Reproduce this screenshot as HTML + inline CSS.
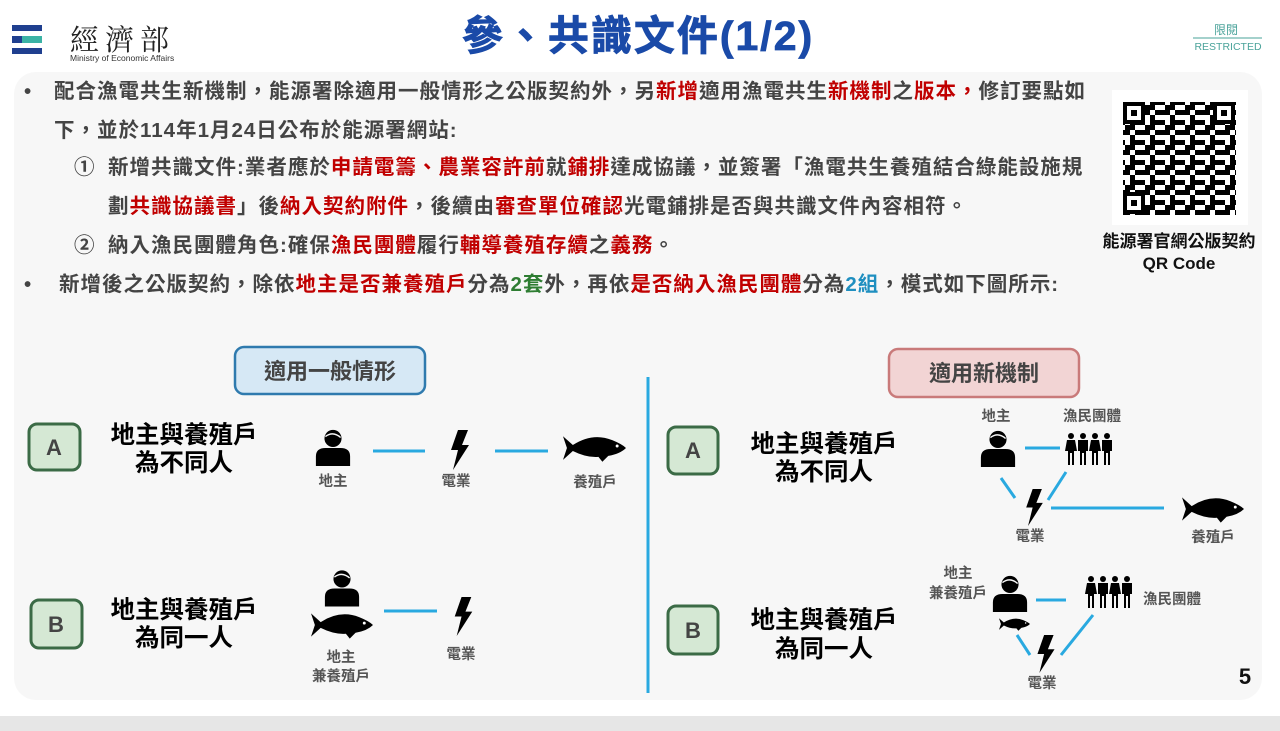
<!DOCTYPE html>
<html><head><meta charset="utf-8"><style>
*{margin:0;padding:0}
body{width:1280px;height:731px;background:#fff;position:relative;overflow:hidden;font-family:"Liberation Sans","Noto Sans CJK TC",sans-serif}
.t{position:absolute;white-space:nowrap;font-weight:bold;color:#444;font-size:20.5px;line-height:24px;letter-spacing:1.0px}
.r{color:#c00000}.g{color:#2e7d32}.b{color:#1f8fc0}
svg{position:absolute;left:0;top:0}
</style></head><body>
<div style="position:absolute;left:14px;top:72px;width:1248px;height:628px;background:#f7f7f7;border-radius:22px"></div>
<div style="position:absolute;left:0;top:716px;width:1280px;height:15px;background:#e6e6e6"></div>

<svg width="1280" height="731" viewBox="0 0 1280 731">
<defs>
<symbol id="person" viewBox="0 0 40 40"><circle cx="20" cy="11" r="9"/><path d="M2 40 V30 Q2 21 12 21 H28 Q38 21 38 30 V40Z"/><path d="M12 9 Q20 3 28 10" stroke="#f7f7f7" stroke-width="1.5" fill="none"/></symbol>
<symbol id="bolt" viewBox="0 0 20 40"><path d="M8 0 H18 L12 15 H19 L3 40 L8 20 H1Z"/></symbol>
<symbol id="fish" viewBox="0 0 64 28"><path d="M0 2 L10 11 Q30 -2 50 6 Q60 10 64 14 Q58 20 46 22 L40 28 L36 23 Q24 24 10 17 L0 26 L4 14Z"/><circle cx="55" cy="12" r="1.5" fill="#fff"/></symbol>
<symbol id="grp" viewBox="0 0 48 32"><g><circle cx="6" cy="3" r="3"/><path d="M2 7 H10 L12 18 H9 V32 H7 V20 H5 V32 H3 V18 H0Z"/></g><g transform="translate(12 0)"><circle cx="6" cy="3" r="3"/><path d="M1 7 H11 V18 H9 V32 H7 V20 H5 V32 H3 V18 H1Z"/></g><g transform="translate(24 0)"><circle cx="6" cy="3" r="3"/><path d="M2 7 H10 L12 18 H9 V32 H7 V20 H5 V32 H3 V18 H0Z"/></g><g transform="translate(36 0)"><circle cx="6" cy="3" r="3"/><path d="M1 7 H11 V18 H9 V32 H7 V20 H5 V32 H3 V18 H1Z"/></g></symbol>
<pattern id="qr" width="20" height="20" patternUnits="userSpaceOnUse"><rect width="20" height="20" fill="#fff"/><rect x="0" y="0" width="5" height="5"/><rect x="5" y="5" width="5" height="5"/><rect x="10" y="0" width="5" height="10"/><rect x="0" y="10" width="10" height="5"/><rect x="15" y="10" width="5" height="5"/><rect x="10" y="15" width="5" height="5"/><rect x="15" y="0" width="5" height="5"/></pattern>
</defs>
<!-- logo -->
<rect x="12" y="25" width="30" height="6" fill="#1f3f8f"/>
<rect x="12" y="36" width="10" height="7" fill="#1f3f8f"/><rect x="22" y="36" width="20" height="7" fill="#3bb3a5"/>
<rect x="12" y="48" width="30" height="6" fill="#1f3f8f"/>
<text x="70" y="50" font-family="Liberation Serif,'Noto Serif CJK SC',serif" font-size="29" letter-spacing="6" fill="#222">經濟部</text>
<text x="70" y="61" font-size="8.5" fill="#333">Ministry of Economic Affairs</text>
<text x="638" y="50" text-anchor="middle" font-size="41" font-weight="bold" letter-spacing="2" fill="#1a4aa8" stroke="#1a4aa8" stroke-width="0.8">參、共識文件(1/2)</text>
<text x="1226" y="34" text-anchor="middle" font-size="12" fill="#4aa39a">限閱</text>
<line x1="1193" y1="38" x2="1262" y2="38" stroke="#4aa39a" stroke-width="1"/>
<text x="1228" y="50" text-anchor="middle" font-size="10.5" fill="#4aa39a">RESTRICTED</text>
<!-- QR -->
<rect x="1112" y="90" width="136" height="135" fill="#fff"/>
<rect x="1123" y="102" width="113" height="113" fill="url(#qr)"/>
<g fill="#fff" stroke="#000" stroke-width="4"><rect x="1125" y="104" width="18" height="18"/><rect x="1215" y="104" width="18" height="18"/><rect x="1125" y="194" width="18" height="18"/></g>
<g fill="#000"><rect x="1131" y="110" width="6" height="6"/><rect x="1221" y="110" width="6" height="6"/><rect x="1131" y="200" width="6" height="6"/></g>
<text x="1179" y="247" text-anchor="middle" font-size="17" font-weight="bold" fill="#111">能源署官網公版契約</text>
<text x="1179" y="269" text-anchor="middle" font-size="17" font-weight="bold" fill="#111">QR Code</text>

<!-- divider -->
<line x1="648" y1="377" x2="648" y2="693" stroke="#29a9e0" stroke-width="3"/>
<!-- header boxes -->
<rect x="235" y="347" width="190" height="47" rx="9" fill="#d6e8f5" stroke="#2f7aae" stroke-width="2.5"/>
<text x="330" y="379" text-anchor="middle" font-size="22" font-weight="bold" fill="#444">適用一般情形</text>
<rect x="889" y="349" width="190" height="48" rx="9" fill="#f2d4d4" stroke="#c97a7a" stroke-width="2.5"/>
<text x="984" y="381" text-anchor="middle" font-size="22" font-weight="bold" fill="#444">適用新機制</text>
<!-- A/B boxes -->
<g fill="#d5e8d4" stroke="#3b6b46" stroke-width="3">
<rect x="29" y="424" width="51" height="46" rx="8"/><rect x="31" y="600" width="51" height="48" rx="8"/>
<rect x="668" y="427" width="50" height="47" rx="8"/><rect x="668" y="606" width="50" height="48" rx="8"/></g>
<g font-size="22" font-weight="bold" fill="#444" text-anchor="middle">
<text x="54" y="455">A</text><text x="56" y="632">B</text><text x="693" y="458">A</text><text x="693" y="638">B</text></g>
<g font-size="24.5" font-weight="bold" fill="#000" text-anchor="middle">
<text x="184" y="443">地主與養殖戶</text><text x="184" y="471">為不同人</text>
<text x="184" y="618">地主與養殖戶</text><text x="184" y="646">為同一人</text>
<text x="824" y="452">地主與養殖戶</text><text x="824" y="480">為不同人</text>
<text x="824" y="628">地主與養殖戶</text><text x="824" y="657">為同一人</text></g>
<!-- lines -->
<g stroke="#29a9e0" stroke-width="3">
<line x1="373" y1="451" x2="425" y2="451"/><line x1="495" y1="451" x2="548" y2="451"/>
<line x1="384" y1="611" x2="437" y2="611"/>
<line x1="1025" y1="448" x2="1060" y2="448"/><line x1="1001" y1="478" x2="1015" y2="498"/><line x1="1066" y1="472" x2="1048" y2="500"/><line x1="1051" y1="508" x2="1164" y2="508"/>
<line x1="1036" y1="600" x2="1066" y2="600"/><line x1="1017" y1="635" x2="1030" y2="655"/><line x1="1093" y1="615" x2="1061" y2="655"/>
</g>
<!-- icons -->
<g fill="#000">
<use href="#person" x="314" y="428" width="38" height="38"/>
<use href="#bolt" x="450" y="430" width="20" height="40"/>
<use href="#fish" x="563" y="434" width="63" height="28"/>
<use href="#person" x="323" y="568" width="38" height="39"/>
<use href="#fish" x="311" y="611" width="62" height="28"/>
<use href="#bolt" x="453" y="597" width="21" height="39"/>
<use href="#person" x="979" y="429" width="38" height="38"/>
<use href="#grp" x="1065" y="433" width="48" height="32"/>
<use href="#bolt" x="1025" y="489" width="19" height="37"/>
<use href="#fish" x="1182" y="495" width="62" height="28"/>
<use href="#person" x="991" y="573" width="38" height="40"/>
<use href="#fish" x="999" y="617" width="31" height="14"/>
<use href="#grp" x="1085" y="576" width="48" height="32"/>
<use href="#bolt" x="1036" y="635" width="20" height="38"/>
</g>
<g font-size="14.5" font-weight="bold" fill="#555" text-anchor="middle">
<text x="333" y="486">地主</text><text x="456" y="486">電業</text><text x="595" y="487">養殖戶</text>
<text x="341" y="662">地主</text><text x="341" y="681">兼養殖戶</text><text x="461" y="659">電業</text>
<text x="996" y="421">地主</text><text x="1092" y="421">漁民團體</text><text x="1030" y="541">電業</text><text x="1213" y="542">養殖戶</text>
<text x="958" y="578">地主</text><text x="958" y="598">兼養殖戶</text><text x="1172" y="604">漁民團體</text><text x="1042" y="688">電業</text></g>
<text x="1245" y="684" text-anchor="middle" font-size="22" font-weight="bold" fill="#111">5</text>
</svg>

<div class="t" style="left:24px;top:80px">•</div>
<div class="t" style="left:54px;top:80px">配合漁電共生新機制，能源署除適用一般情形之公版契約外，另<span class="r">新增</span>適用漁電共生<span class="r">新機制</span>之<span class="r">版本，</span>修訂要點如</div>
<div class="t" style="left:54px;top:119px">下，並於114年1月24日公布於能源署網站:</div>
<div class="t" style="left:74px;top:156px">①</div>
<div class="t" style="left:108px;top:156px">新增共識文件:業者應於<span class="r">申請電籌、農業容許前</span>就<span class="r">鋪排</span>達成協議，並簽署「漁電共生養殖結合綠能設施規</div>
<div class="t" style="left:108px;top:195px">劃<span class="r">共識協議書</span>」後<span class="r">納入契約附件</span>，後續由<span class="r">審查單位確認</span>光電鋪排是否與共識文件內容相符。</div>
<div class="t" style="left:74px;top:234px">②</div>
<div class="t" style="left:108px;top:234px">納入漁民團體角色:確保<span class="r">漁民團體</span>履行<span class="r">輔導養殖存續</span>之<span class="r">義務</span>。</div>
<div class="t" style="left:24px;top:273px">•</div>
<div class="t" style="left:59px;top:273px">新增後之公版契約，除依<span class="r">地主是否兼養殖戶</span>分為<span class="g">2套</span>外，再依<span class="r">是否納入漁民團體</span>分為<span class="b">2組</span>，模式如下圖所示:</div>
</body></html>
